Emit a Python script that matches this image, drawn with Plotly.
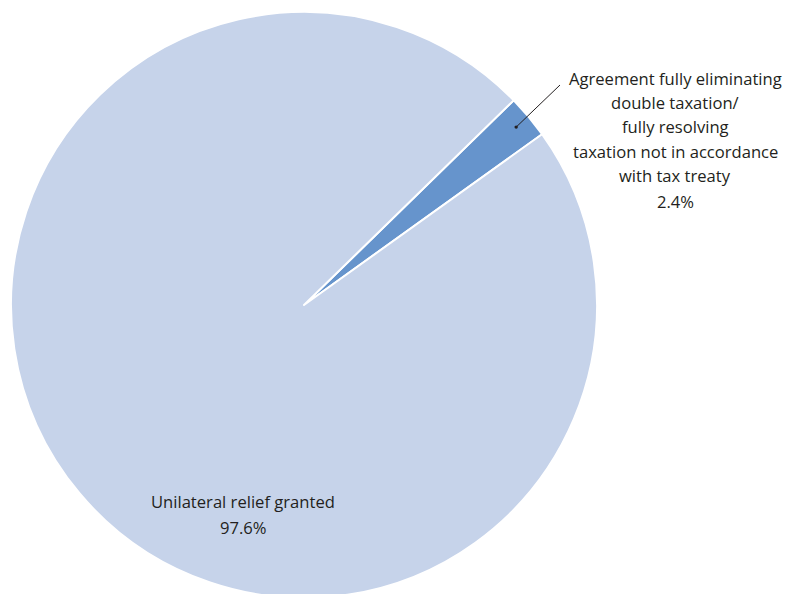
import math
import plotly.graph_objects as go

# ---- data ----
labels = [
    "Agreement fully eliminating double taxation/ fully resolving taxation not in accordance with tax treaty",
    "Unilateral relief granted",
]
values = [2.4, 97.6]
label_lines = [
    ["Agreement fully eliminating", "double taxation/", "fully resolving",
     "taxation not in accordance", "with tax treaty"],
    ["Unilateral relief granted"],
]
colors = ["#6694CC", "#C6D3EA"]

W, H = 788, 598
OFF = 0  # page body margin removed by post_script
ML, MT = 11, 12
PW = PH = 586
rotation = 45.7  # degrees clockwise from 12 o'clock where first slice starts

fig = go.Figure(go.Pie(
    labels=labels,
    values=values,
    sort=False,
    direction="clockwise",
    rotation=rotation,
    textinfo="none",
    hoverinfo="label+percent",
    marker=dict(colors=colors, line=dict(color="white", width=2)),
    showlegend=False,
))

FONT = "Open Sans"
FS = 16.6
TXT = "#231F20"

def px_to_paper(px, py):
    # px, py are screen pixels
    return (px - OFF - ML) / PW, (MT + PH - (py - OFF)) / PH

annotations = []
shapes = []

total = sum(values)
mid = rotation + 360 * values[0] / total / 2  # clockwise from top
cx, cy = OFF + ML + PW / 2, OFF + MT + PH / 2
R = PW / 2
rdot = 0.945 * R
dot_x = cx + rdot * math.sin(math.radians(mid))
dot_y = cy - rdot * math.cos(math.radians(mid))
end_x, end_y = 560, 85
x0, y0 = px_to_paper(dot_x, dot_y)
x1, y1 = px_to_paper(end_x, end_y)
shapes.append(dict(type="line", xref="paper", yref="paper", x0=x0, y0=y0, x1=x1, y1=y1,
                   line=dict(color="#231F20", width=1)))
d = 1.7
shapes.append(dict(type="circle", xref="paper", yref="paper",
                   x0=x0 - d / PW, x1=x0 + d / PW,
                   y0=y0 - d / PH, y1=y0 + d / PH,
                   fillcolor="#231F20", line=dict(width=0)))

# small slice text
small_lines = label_lines[0] + [f"{values[0]:.1f}%"]
sx, sy0, step = 675, 78, 24.4
for i, ln in enumerate(small_lines):
    yy = sy0 + i * step + (1 if i == len(small_lines) - 1 else 0)
    px, py = px_to_paper(sx, yy)
    annotations.append(dict(text=ln, x=px, y=py, xref="paper", yref="paper",
                            xanchor="center", yanchor="middle", showarrow=False,
                            font=dict(family=FONT, size=FS, color=TXT)))

# big slice text
big_lines = label_lines[1] + [f"{values[1]:.1f}%"]
bx, by0, bstep = 243, 501, 26
for i, ln in enumerate(big_lines):
    px, py = px_to_paper(bx, by0 + i * bstep)
    annotations.append(dict(text=ln, x=px, y=py, xref="paper", yref="paper",
                            xanchor="center", yanchor="middle", showarrow=False,
                            font=dict(family=FONT, size=FS, color=TXT)))

fig.update_layout(
    width=W, height=H,
    margin=dict(l=ML, r=W - ML - PW, t=MT, b=H - MT - PH, pad=0),
    paper_bgcolor="white", plot_bgcolor="white",
    annotations=annotations, shapes=shapes,
)

fig.write_html(
    "out.html",
    config={"displayModeBar": False},
    post_script="document.body.style.margin='0';document.body.style.overflow='hidden';",
)
